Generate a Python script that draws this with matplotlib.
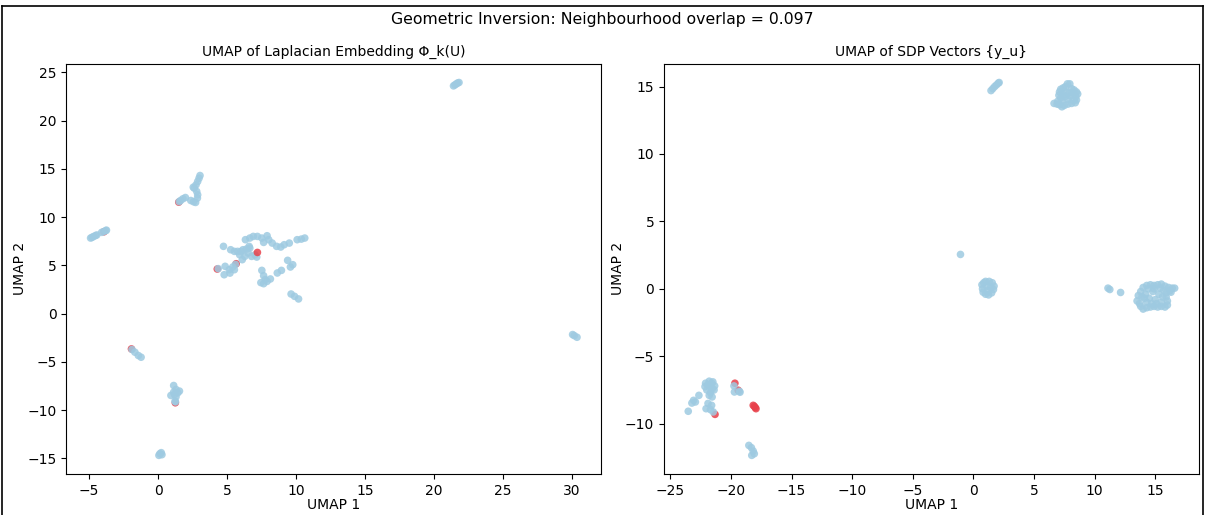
#!/usr/bin/env python3
# -*- coding: utf-8 -*-
"""
Two UMAP scatter panels: Laplacian embedding vs SDP vectors.
Points labelled 0 (light blue) or 1 (red); order in the lists sets overlap.
"""

import matplotlib
matplotlib.use("Agg")
import matplotlib.pyplot as plt
from matplotlib.colors import ListedColormap
from matplotlib.lines import Line2D

SUPTITLE = "Geometric Inversion: Neighbourhood overlap = 0.097"
TITLE_LEFT = "UMAP of Laplacian Embedding Φ_k(U)"
TITLE_RIGHT = "UMAP of SDP Vectors {y_u}"

# --- left panel (Laplacian embedding) ---
lap_x = [
    # red points partly hidden under blue
    -3.93, 1.49, 4.28, 5.65, -1.94, 1.24,
    # blue
    21.4, 21.5, 21.6, 21.7, 21.8,
    -4.9, -4.8, -4.7, -4.55, -4.45, -4.1, -3.95, -3.8, -3.75,
    3.03, 2.96, 2.86, 2.74, 2.61, 2.54, 2.79, 2.86, 2.84, 2.71, 2.56, 2.36,
    1.97, 1.79, 1.62, 1.52,
    4.73, 5.25, 5.52, 5.75, 6.0, 6.32, 6.64, 6.89, 7.19, 7.51, 7.89, 8.01,
    7.64, 8.26, 8.58, 8.88, 9.13, 9.5, 10.07, 10.37, 10.62,
    6.14, 6.39, 6.64, 6.52, 6.27, 6.09, 6.77, 7.01, 7.14, 5.9, 6.59,
    4.35, 4.85, 4.78, 5.15, 5.4, 5.52, 5.2, 5.6,
    7.51, 7.64, 7.76, 7.64, 7.89, 8.13, 7.44,
    8.63, 8.93, 9.38, 9.58, 9.75, 9.63, 9.88, 10.17,
    -1.9, -1.69, -1.44, -1.24,
    1.12, 1.29, 1.42, 1.17, 0.92, 1.29, 1.22, 1.12, 1.54, 1.25,
    0.12, 0.27, 0.05, 0.22,
    30.03, 30.15, 30.35,
    # red on top
    7.19,
]
lap_y = [
    8.48, 11.55, 4.62, 5.17, -3.66, -9.24,
    23.6, 23.7, 23.8, 23.9, 23.95,
    7.83, 7.9, 7.98, 8.08, 8.15, 8.42, 8.5, 8.6, 8.65,
    14.31, 14.03, 13.69, 13.34, 13.0, 13.1, 12.66, 12.31, 11.97, 11.52, 11.59, 11.72,
    12.03, 11.9, 11.72, 11.6,
    6.97, 6.62, 6.45, 6.45, 6.45, 7.66, 7.83, 8.0, 8.0, 7.83, 8.07, 7.66,
    7.38, 7.31, 6.97, 6.9, 7.14, 7.31, 7.66, 7.72, 7.83,
    6.62, 6.69, 6.79, 6.28, 5.93, 5.59, 5.93, 6.1, 5.86, 6.1, 6.97,
    4.66, 4.9, 4.03, 4.55, 4.83, 4.55, 4.2, 5.1,
    4.48, 3.93, 3.52, 3.1, 3.34, 3.59, 3.21,
    4.21, 4.48, 5.52, 4.83, 5.07, 2.03, 1.79, 1.52,
    -3.72, -4.0, -4.34, -4.52,
    -7.45, -7.86, -8.21, -8.38, -8.48, -8.62, -9.07, -8.14, -8.03, -9.15,
    -14.52, -14.62, -14.69, -14.41,
    -2.17, -2.28, -2.45,
    6.34,
]
lap_label = [1] * 6 + [0] * (len(lap_x) - 7) + [1]

# --- right panel (SDP vectors) ---
sdp_x = [
    # red points partly hidden under blue
    -19.68, -19.41, -21.32,
    # blue
    1.45, 1.6, 1.75, 1.9, 2.05, 2.12,
    6.65, 6.9, 7.1, 7.3, 7.5, 7.8, 8.1, 8.4, 8.5, 8.45, 8.6, 8.5, 8.3, 8.1,
    7.95, 7.75, 7.6, 7.4, 7.2, 7.1, 7.05, 7.2, 7.3, 7.55, 7.8, 8.0, 7.9, 7.6,
    6.95, 8.25, 7.4, 8.2,
    -1.07,
    0.7, 0.75, 0.8, 1.0, 1.25, 1.5, 1.65, 1.7, 1.55, 1.3, 1.0, 0.85, 1.1, 1.4, 1.2,
    11.1, 11.25, 12.14,
    13.5, 13.6, 13.8, 14.0, 14.3, 14.6, 14.9, 15.2, 15.5, 15.8, 16.1, 16.4, 16.6,
    16.2, 15.9, 15.9, 16.0, 16.0, 15.8, 15.5, 15.2, 14.9, 14.6, 14.3, 14.0, 13.8,
    13.7, 14.2, 14.5, 14.8, 15.0, 15.3, 15.5, 14.3, 14.7, 15.6, 14.1, 15.1, 14.9,
    15.4, 14.4, 13.9, 15.7, 16.3,
    -22.1, -21.8, -21.5, -21.35, -21.4, -21.7, -22.0, -22.15, -21.75, -21.6,
    -21.9, -21.55, -21.8, -21.56,
    -22.65, -23.09, -22.94, -23.23, -23.53,
    -21.9, -22.06, -21.6, -21.7, -21.47,
    -19.76, -19.72, -19.3, -19.26,
    -18.53, -18.32, -18.17, -18.29, -18.08,
    # red on top
    -18.17, -18.08, -18.0, -17.94,
]
sdp_y = [
    -7.0, -7.52, -9.31,
    14.7, 14.85, 15.0, 15.12, 15.25, 15.3,
    13.75, 13.7, 13.65, 13.5, 13.6, 13.7, 13.75, 13.8, 14.0, 14.25, 14.45, 14.6,
    14.75, 14.85, 15.2, 15.2, 15.0, 14.9, 14.8, 14.6, 14.35, 14.15, 13.95, 14.25,
    14.05, 14.3, 14.55, 14.6, 13.9, 14.0, 14.4, 14.5,
    2.55,
    0.3, 0.0, -0.25, -0.4, -0.45, -0.3, -0.05, 0.2, 0.45, 0.55, 0.55, 0.45, 0.2,
    0.1, -0.15,
    0.05, -0.05, -0.27,
    -0.9, -0.5, -0.2, 0.1, 0.25, 0.3, 0.25, 0.3, 0.35, 0.2, 0.1, 0.05, 0.05,
    -0.15, -0.3, -0.6, -0.9, -1.2, -1.35, -1.3, -1.35, -1.3, -1.35, -1.4, -1.5,
    -1.3, -1.1, -0.4, -0.7, -0.2, -0.8, -0.4, -1.0, -1.0, -1.1, -0.6, -0.7, -1.1,
    0.0, 0.05, 0.0, -0.6, -0.1, -0.25,
    -7.0, -6.85, -6.9, -7.2, -7.5, -7.7, -7.5, -7.25, -7.25, -7.0, -7.1, -7.4,
    -7.9, -8.02,
    -7.9, -8.27, -8.39, -8.47, -9.08,
    -8.5, -8.89, -8.64, -8.96, -9.13,
    -7.2, -7.65, -7.6, -7.67,
    -11.61, -11.78, -12.03, -12.35, -12.23,
    -8.64, -8.71, -8.81, -8.89,
]
sdp_label = [1] * 3 + [0] * (len(sdp_x) - 7) + [1] * 4

POINT_COLORS = ListedColormap(["#9ecae1", "#e8414b"])

fig, (ax1, ax2) = plt.subplots(1, 2, figsize=(12.05, 5.15), dpi=100)
fig.subplots_adjust(left=0.055, right=0.995, bottom=0.0796, top=0.876, wspace=0.117)

for ax, xs, ys, labels, title in [(ax1, lap_x, lap_y, lap_label, TITLE_LEFT),
                                  (ax2, sdp_x, sdp_y, sdp_label, TITLE_RIGHT)]:
    ax.scatter(xs, ys, c=labels, cmap=POINT_COLORS, vmin=0, vmax=1,
               s=30, alpha=0.85, linewidths=0)
    ax.set_title(title, fontsize=10)
    ax.set_xlabel("UMAP 1", labelpad=0)
    ax.set_ylabel("UMAP 2", labelpad=0)

fig.suptitle(SUPTITLE, fontsize=11.3, y=0.977)

# screenshot frame around the figure
for xs, ys in [([0.002, 0.998], [0.988, 0.988]),
               ([0.002, 0.002], [0.0, 0.988]),
               ([0.998, 0.998], [0.0, 0.988])]:
    fig.add_artist(Line2D(xs, ys, color="black", lw=1.2, transform=fig.transFigure))

fig.savefig("out.png", dpi=100)
